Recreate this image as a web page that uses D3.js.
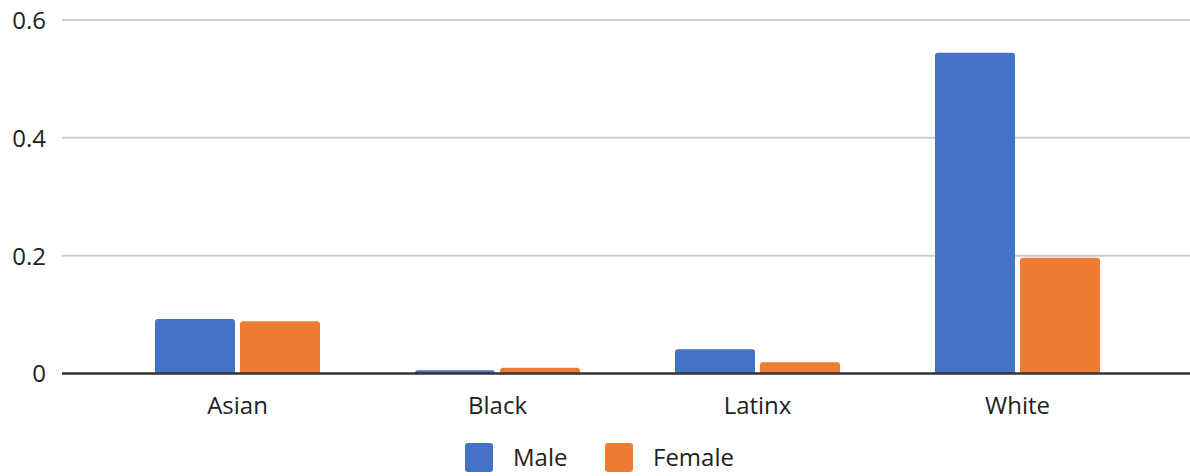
<!DOCTYPE html>
<html lang="en">
<head>
    <meta charset="UTF-8">
    <script src="https://d3js.org/d3.v7.min.js"></script>
    <title>Share by group and gender</title>
    <style>
        body { margin: 0; background: #fff; }
        text { font-family: "Open Sans", "Noto Sans", sans-serif; fill: #222; }
    </style>
</head>
<body>
    <svg id="chart" width="1190" height="476"></svg>
    <script>
        // Data
        const groups = ["Asian", "Black", "Latinx", "White"];
        const genders = ["Male", "Female"];
        const maleValues = [0.0925, 0.0055, 0.041, 0.5445];
        const femaleValues = [0.0885, 0.0098, 0.019, 0.1965];
        const yTicks = [0, 0.2, 0.4, 0.6];
        const colors = ["#4472c4", "#ed7d31"];

        const svg = d3.select("svg#chart");

        // plot area
        const gridLeft = 62, gridRight = 1190;
        const bandLeft = 107.5, bandRight = 1147.5;
        const yTop = 20, yZero = 373.5;

        const rows = groups.map((g, i) => ({ group: g, Male: maleValues[i], Female: femaleValues[i] }));

        const x0 = d3.scaleBand().domain(groups).range([bandLeft, bandRight]).padding(0);
        const x1 = d3.scaleBand().domain(genders).range([-82.5, 82.5]).paddingInner(5 / 85);
        const y = d3.scaleLinear().domain([0, 0.6]).range([yZero, yTop]);
        const color = d3.scaleOrdinal(genders, colors);

        // gridlines (skip zero, axis line drawn later)
        const grid = svg.append("g").attr("class", "gridlines");
        grid.selectAll("line")
            .data(yTicks.filter(d => d !== 0))
            .join("line")
            .attr("x1", gridLeft).attr("x2", gridRight)
            .attr("y1", d => y(d)).attr("y2", d => y(d))
            .attr("stroke", "#cccccc")
            .attr("stroke-width", 2);

        // y axis labels
        const leftAxis = d3.axisLeft(y).tickValues(yTicks).tickSize(0).tickPadding(0)
            .tickFormat(d => d === 0 ? "0" : d3.format(".1f")(d));
        const yAxisG = svg.append("g")
            .attr("transform", `translate(46,0)`)
            .call(leftAxis);
        yAxisG.select(".domain").remove();
        yAxisG.selectAll("text")
            .style("font-size", "24px")
            .attr("fill", "#222")
            .attr("dy", "0.35em");

        // rounded-top bar path
        function barPath(x, yv, w, h, r) {
            r = Math.min(r, h, w / 2);
            return `M${x},${yv + h}V${yv + r}Q${x},${yv} ${x + r},${yv}H${x + w - r}Q${x + w},${yv} ${x + w},${yv + r}V${yv + h}Z`;
        }

        const bars = svg.append("g").attr("class", "bars");
        bars.selectAll("g")
            .data(rows)
            .join("g")
            .attr("transform", d => `translate(${x0(d.group) + x0.bandwidth() / 2},0)`)
            .selectAll("path")
            .data(d => genders.map(k => ({ key: k, value: d[k] })))
            .join("path")
            .attr("d", d => barPath(x1(d.key), y(d.value), x1.bandwidth(), yZero - y(d.value), 3))
            .attr("fill", d => color(d.key));

        // zero axis line
        svg.append("line")
            .attr("x1", gridLeft).attr("x2", gridRight)
            .attr("y1", yZero).attr("y2", yZero)
            .attr("stroke", "#333")
            .attr("stroke-width", 2.5);

        // category labels
        const bottomAxis = d3.axisBottom(x0).tickSize(0).tickPadding(0);
        const xAxisG = svg.append("g")
            .attr("transform", `translate(0,${yZero})`)
            .call(bottomAxis);
        xAxisG.select(".domain").remove();
        xAxisG.selectAll("text")
            .style("font-size", "24px")
            .attr("fill", "#222")
            .attr("y", 40)
            .attr("dy", 0);

        // legend
        const legend = svg.append("g").attr("class", "legend");
        const legendX = [465, 605];
        genders.forEach((g, i) => {
            legend.append("rect")
                .attr("x", legendX[i]).attr("y", 443)
                .attr("width", 28).attr("height", 29)
                .attr("rx", 3)
                .attr("fill", color(g));
            legend.append("text")
                .attr("x", legendX[i] + 48)
                .attr("y", 466)
                .style("font-size", "24px")
                .text(g);
        });
    </script>
</body>
</html>
